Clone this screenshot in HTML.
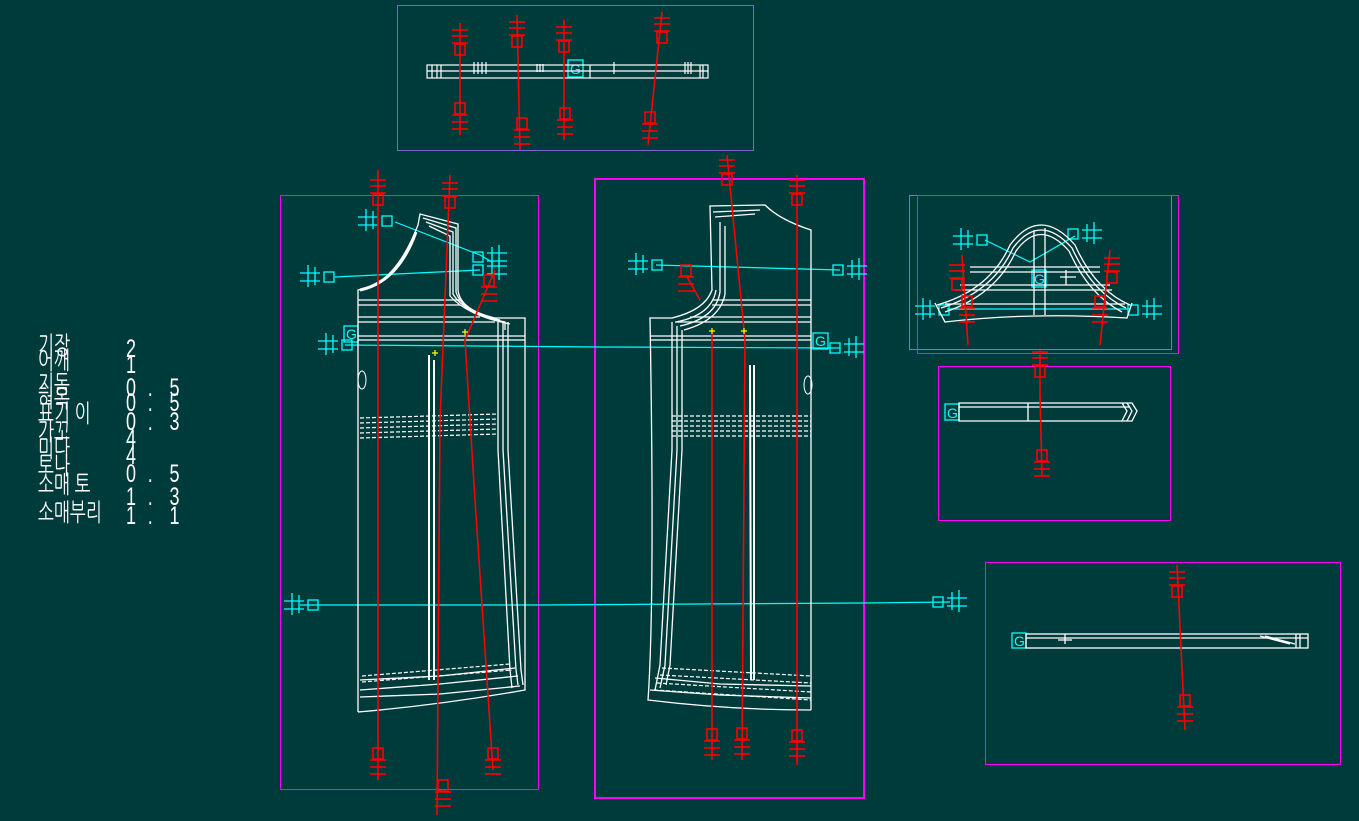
<!DOCTYPE html>
<html><head><meta charset="utf-8"><style>
html,body{margin:0;padding:0;background:#003b3b;width:1359px;height:821px;overflow:hidden}
svg{display:block}
.t{font-family:"Liberation Sans","NanumGothic","Noto Sans CJK KR",sans-serif;fill:#fff;font-size:20px}
.d{font-size:24px}
</style></head><body>
<svg width="1359" height="821" viewBox="0 0 1359 821" xmlns="http://www.w3.org/2000/svg">
<defs>
<g id="mT" stroke="#f00" stroke-width="1.6" fill="none"><line x1="-8" y1="0" x2="8" y2="0"/><line x1="-8" y1="6" x2="8" y2="6"/><line x1="-8" y1="13" x2="8" y2="13"/><rect x="-5" y="14" width="10" height="11"/></g>
<g id="mB" stroke="#f00" stroke-width="1.6" fill="none"><rect x="-5" y="0" width="10" height="11"/><line x1="-8" y1="12" x2="8" y2="12"/><line x1="-8" y1="19" x2="8" y2="19"/><line x1="-8" y1="26" x2="8" y2="26"/></g>
<g id="cL" stroke="#0ff" stroke-width="1.3" fill="none"><line x1="-12" y1="-4" x2="8" y2="-4"/><line x1="-12" y1="4" x2="8" y2="4"/><line x1="-4" y1="-12" x2="-4" y2="10"/><line x1="3" y1="-10" x2="3" y2="8"/><rect x="12" y="-5" width="10" height="10"/></g>
<g id="cR" stroke="#0ff" stroke-width="1.3" fill="none"><line x1="12" y1="-4" x2="-8" y2="-4"/><line x1="12" y1="4" x2="-8" y2="4"/><line x1="4" y1="-12" x2="4" y2="10"/><line x1="-3" y1="-10" x2="-3" y2="8"/><rect x="-22" y="-5" width="10" height="10"/></g>
</defs>

<!-- left text -->
<g class="t">
<g transform="translate(38,354) scale(0.85,1.25)"><text>기장</text></g>
<g transform="translate(38,369) scale(0.85,1.25)"><text>어깨</text></g>
<g transform="translate(38,393) scale(0.85,1.25)"><text>지동</text></g>
<g transform="translate(38,407) scale(0.85,1.25)"><text>혀목</text></g>
<g transform="translate(38,422) scale(0.85,1.25)"><text>표기 이</text></g>
<g transform="translate(38,440) scale(0.85,1.25)"><text>가꼬</text></g>
<g transform="translate(38,457) scale(0.85,1.25)"><text>미다</text></g>
<g transform="translate(38,474) scale(0.85,1.25)"><text>토나</text></g>
<g transform="translate(38,493) scale(0.85,1.25)"><text>소매 토</text></g>
<g transform="translate(38,521) scale(0.85,1.25)"><text>소매부리</text></g>
<g class="d">
<g transform="translate(126,357) scale(0.75,1.05)"><text>2</text></g>
<g transform="translate(126,373) scale(0.75,1.05)"><text>1</text></g>
<g transform="translate(126,396) scale(0.75,1.05)"><text>0</text><text x="29">.</text><text x="58">5</text></g>
<g transform="translate(126,411) scale(0.75,1.05)"><text>0</text><text x="29">.</text><text x="58">5</text></g>
<g transform="translate(126,430) scale(0.75,1.05)"><text>0</text><text x="29">.</text><text x="58">3</text></g>
<g transform="translate(126,447) scale(0.75,1.05)"><text>4</text></g>
<g transform="translate(126,464) scale(0.75,1.05)"><text>4</text></g>
<g transform="translate(126,482) scale(0.75,1.05)"><text>0</text><text x="29">.</text><text x="58">5</text></g>
<g transform="translate(126,505) scale(0.75,1.05)"><text>1</text><text x="29">.</text><text x="58">3</text></g>
<g transform="translate(126,524) scale(0.75,1.05)"><text>1</text><text x="29">.</text><text x="58">1</text></g>
</g>
</g>

<!-- panels -->
<g fill="none">
<rect x="397.5" y="5.5" width="356" height="145" stroke="#f0f"/>
<rect x="397.5" y="5.5" width="356" height="145" stroke="#2aa" stroke-opacity=".6"/>
<rect x="280.5" y="195.5" width="258" height="594" stroke="#f0f"/>
<rect x="594.5" y="178.5" width="270" height="620" stroke="#f0f"/>
<rect x="595.5" y="179.5" width="268" height="618" stroke="#2aa" stroke-opacity=".7"/>
<rect x="909.5" y="195.5" width="262" height="154" stroke="#2aa"/>
<rect x="917.5" y="195.5" width="261" height="158" stroke="#f0f"/>
<rect x="938.5" y="366.5" width="232" height="154" stroke="#f0f"/>
<rect x="985.5" y="562.5" width="355" height="202" stroke="#f0f"/>
</g>

<!-- cyan long lines -->
<g stroke="#0ff" stroke-width="1.2" fill="none">
<polyline points="345,345 600,347 840,348"/>
<polyline points="300,605 540,605 860,603 950,602"/>
<polyline points="395,222 480,255 492,262"/>
<polyline points="335,277 480,270"/>
<polyline points="656,265 840,270"/>
<polyline points="985,240 1030,262 1075,236"/>
<line x1="947" y1="309" x2="1130" y2="309"/>
</g>
<use href="#cL" x="312" y="277"/><use href="#cL" x="370" y="221"/><use href="#cL" x="330" y="345"/>
<use href="#cR" x="495" y="257"/><use href="#cR" x="495" y="270"/>
<use href="#cL" x="640" y="265"/><use href="#cR" x="855" y="270"/><use href="#cR" x="852" y="348"/>
<use href="#cL" x="296" y="605"/><use href="#cR" x="955" y="602"/>
<use href="#cL" x="965" y="240"/><use href="#cR" x="1090" y="234"/>
<use href="#cL" x="927" y="310"/><use href="#cR" x="1150" y="310"/>
<g stroke="#0ff" stroke-width="1.3" fill="none">
<rect x="344" y="326" width="14" height="16"/><rect x="568" y="60" width="15" height="17"/>
<rect x="813" y="333" width="15" height="16"/><rect x="1032" y="270" width="14" height="17"/>
<rect x="945" y="404" width="14" height="16"/><rect x="1012" y="633" width="14" height="15"/>
</g>
<g fill="#0ff" font-family="Liberation Sans" font-size="14"><text x="346" y="339">G</text><text x="570" y="74">G</text><text x="815" y="346">G</text><text x="1034" y="284">G</text><text x="947" y="418">G</text><text x="1014" y="646">G</text></g>

<!-- top strip -->
<g stroke="#fff" stroke-width="1.2" fill="none">
<rect x="427" y="65" width="281" height="13"/><line x1="427" y1="71" x2="708" y2="71"/>
<line x1="432" y1="65" x2="432" y2="78"/><line x1="437" y1="65" x2="437" y2="78"/><line x1="441" y1="65" x2="441" y2="78"/><line x1="590" y1="65" x2="590" y2="78"/>
<line x1="700" y1="65" x2="700" y2="78"/><line x1="703" y1="65" x2="703" y2="78"/>
<path d="M474 62v12M478 62v12M482 62v12M486 62v12M537 64v8M540 64v8M543 64v8M685 62v12M688 62v12M691 62v12M614 62v12"/>
</g>
<g stroke="#f00" stroke-width="1.6" fill="none">
<line x1="460" y1="23" x2="460" y2="135"/><polyline points="517,15 520,150"/><line x1="564" y1="20" x2="564" y2="140"/><polyline points="662,12 648,145"/>
</g>
<use href="#mT" x="460" y="30"/><use href="#mB" x="460" y="103"/>
<use href="#mT" x="517" y="22"/><use href="#mB" x="522" y="118"/>
<use href="#mT" x="564" y="27"/><use href="#mB" x="565" y="108"/>
<use href="#mT" x="662" y="18"/><use href="#mB" x="650" y="112"/>

<!-- LEFT garment -->
<g stroke="#fff" stroke-width="1.3" fill="none">
<path d="M358,712 L358,290 Q395,285 418,225 L420,214 L458,224 L458,290 Q460,310 495,318 L525,318 L525,690 Q440,705 358,712"/>
<path d="M360,290 Q398,282 416,232" stroke-width="3"/>
<path d="M423,218 L456,228 L456,292 Q462,312 500,320"/>
<path d="M426,222 L453,232 L453,294 Q465,314 505,322 L505,330"/>
<path d="M429,226 L450,236 L450,296 Q468,316 510,324"/>
<line x1="358" y1="300" x2="460" y2="300"/><line x1="358" y1="305" x2="460" y2="305"/>
<line x1="358" y1="317" x2="480" y2="317"/><line x1="358" y1="322" x2="495" y2="322"/><line x1="358" y1="336" x2="525" y2="336"/><line x1="358" y1="340" x2="525" y2="340"/>
<line x1="498" y1="322" x2="498" y2="340"/><line x1="503" y1="322" x2="503" y2="340"/><line x1="508" y1="322" x2="508" y2="340"/>
<polyline points="498,340 498,450 510,670 512,688"/><polyline points="503,340 503,450 516,670 518,685"/><polyline points="508,340 508,450 521,670 523,685"/>
<polyline points="360,680 440,676 515,668"/><polyline points="360,690 440,684 518,676"/><polyline points="360,697 440,694 520,686"/>
<path d="M429,355 L429,680 M434,360 L434,680" stroke-width="2"/>
</g>
<g stroke="#fff" stroke-width="1.2" fill="none" stroke-dasharray="4,2">
<line x1="360" y1="418" x2="498" y2="414"/><line x1="360" y1="423" x2="498" y2="419"/><line x1="360" y1="428" x2="498" y2="424"/><line x1="360" y1="433" x2="498" y2="429"/><line x1="360" y1="438" x2="498" y2="434"/>
<line x1="362" y1="676" x2="510" y2="664"/><line x1="362" y1="682" x2="512" y2="670"/>
</g>
<ellipse cx="362" cy="380" rx="4" ry="9" stroke="#fff" fill="none"/>
<g stroke="#f00" stroke-width="1.6" fill="none">
<line x1="378" y1="170" x2="378" y2="780"/><polyline points="450,175 440,420 437,815"/><polyline points="495,270 465,340 475,500 493,770"/>
</g>
<use href="#mT" x="378" y="180"/><use href="#mB" x="378" y="748"/>
<use href="#mT" x="450" y="183"/><use href="#mB" x="443" y="780"/>
<use href="#mB" x="489" y="275"/><use href="#mB" x="493" y="748"/>
<g stroke="#ff0" stroke-width="1.2"><path d="M462,332h6M465,329v6M432,353h6M435,350v6"/></g>

<!-- RIGHT garment (mirror) -->
<g stroke="#fff" stroke-width="1.3" fill="none">
<path d="M811,710 L811,230 Q780,220 765,205 L710,206 L712,290 Q705,310 672,318 L650,318 Q655,600 648,700 Q730,710 811,710"/>
<path d="M713,212 L760,210 M715,217 L755,214 M716,290 Q712,315 676,322"/>
<path d="M720,222 L720,292 Q716,318 680,326"/>
<path d="M725,226 L725,294 Q720,320 684,330"/>
<line x1="712" y1="300" x2="811" y2="300"/><line x1="712" y1="305" x2="811" y2="305"/>
<line x1="690" y1="317" x2="811" y2="317"/><line x1="675" y1="322" x2="811" y2="322"/><line x1="650" y1="336" x2="811" y2="336"/><line x1="650" y1="340" x2="811" y2="340"/>
<polyline points="672,322 672,450 660,665 655,690"/><polyline points="677,326 677,450 665,665 660,688"/><polyline points="682,330 682,450 670,665 666,685"/>
<polyline points="655,678 720,684 811,686"/><polyline points="650,690 720,695 811,698"/>
<path d="M750,365 L751,680 M754,365 L754,680" stroke-width="2"/>
</g>
<g stroke="#fff" stroke-width="1.2" fill="none" stroke-dasharray="4,2">
<line x1="672" y1="416" x2="811" y2="416"/><line x1="672" y1="421" x2="811" y2="421"/><line x1="672" y1="426" x2="811" y2="426"/><line x1="672" y1="431" x2="811" y2="431"/><line x1="672" y1="436" x2="811" y2="436"/>
<line x1="662" y1="668" x2="811" y2="676"/><line x1="660" y1="675" x2="811" y2="683"/><line x1="657" y1="683" x2="811" y2="692"/><line x1="654" y1="690" x2="811" y2="700"/>
</g>
<ellipse cx="808" cy="385" rx="4" ry="9" stroke="#fff" fill="none"/>
<g stroke="#f00" stroke-width="1.6" fill="none">
<line x1="712" y1="330" x2="712" y2="760"/><polyline points="727,155 745,340 742,760"/><line x1="797" y1="175" x2="797" y2="765"/><polyline points="686,275 700,300"/>
</g>
<use href="#mT" x="727" y="160"/><use href="#mT" x="797" y="180"/><use href="#mB" x="686" y="265"/>
<use href="#mB" x="712" y="729"/><use href="#mB" x="742" y="728"/><use href="#mB" x="797" y="730"/>
<g stroke="#ff0" stroke-width="1.2"><path d="M709,331h6M712,328v6M741,331h6M744,328v6"/></g>

<!-- sleeve panel -->
<g stroke="#fff" stroke-width="1.3" fill="none">
<path d="M937,305 Q990,290 1010,245 Q1040,205 1075,245 Q1095,290 1130,305"/>
<path d="M941,308 Q993,292 1013,248 Q1040,212 1072,248 Q1092,292 1126,308"/>
<path d="M945,312 Q996,295 1016,251 Q1040,218 1069,251 Q1089,295 1122,312"/>
<path d="M935,303 L945,322 Q1030,312 1127,318 L1132,303"/>
<line x1="970" y1="267" x2="1100" y2="267"/><line x1="970" y1="272" x2="1100" y2="272"/><line x1="960" y1="285" x2="1110" y2="285"/><line x1="955" y1="290" x2="1112" y2="290"/><line x1="945" y1="304" x2="1125" y2="304"/>
<line x1="1034" y1="230" x2="1034" y2="315"/><line x1="1045" y1="228" x2="1045" y2="315"/>
<path d="M1060,277h16M1066,270v15"/>
</g>
<g stroke="#f00" stroke-width="1.6" fill="none">
<line x1="962" y1="255" x2="968" y2="345"/><line x1="1110" y1="250" x2="1100" y2="345"/><line x1="1040" y1="350" x2="1040" y2="400"/>
</g>
<use href="#mT" x="957" y="265"/><use href="#mB" x="967" y="296"/><use href="#mT" x="1112" y="258"/><use href="#mB" x="1100" y="296"/>
<use href="#mT" x="1040" y="352"/>

<!-- middle right strip -->
<g stroke="#fff" stroke-width="1.3" fill="none">
<path d="M959,403 L1132,403 L1137,411 L1132,421 L959,421 Z"/><line x1="959" y1="407" x2="1130" y2="407"/><line x1="1028" y1="403" x2="1028" y2="421"/>
<path d="M1122,403l5,8l-5,10M1127,403l5,8l-5,10"/>
</g>
<line x1="1040" y1="395" x2="1042" y2="475" stroke="#f00" stroke-width="1.6"/>
<use href="#mB" x="1042" y="450"/>

<!-- bottom right strip -->
<g stroke="#fff" stroke-width="1.3" fill="none">
<rect x="1026" y="634" width="282" height="14"/><line x1="1026" y1="638" x2="1308" y2="638"/>
<line x1="1296" y1="634" x2="1296" y2="648"/><line x1="1300" y1="634" x2="1300" y2="648"/><path d="M1058,640h14M1065,634v10"/>
<path d="M1260,636l30,8M1265,636l30,8"/>
</g>
<line x1="1177" y1="565" x2="1185" y2="730" stroke="#f00" stroke-width="1.6"/>
<use href="#mT" x="1177" y="572"/><use href="#mB" x="1185" y="695"/>
</svg>
</body></html>
